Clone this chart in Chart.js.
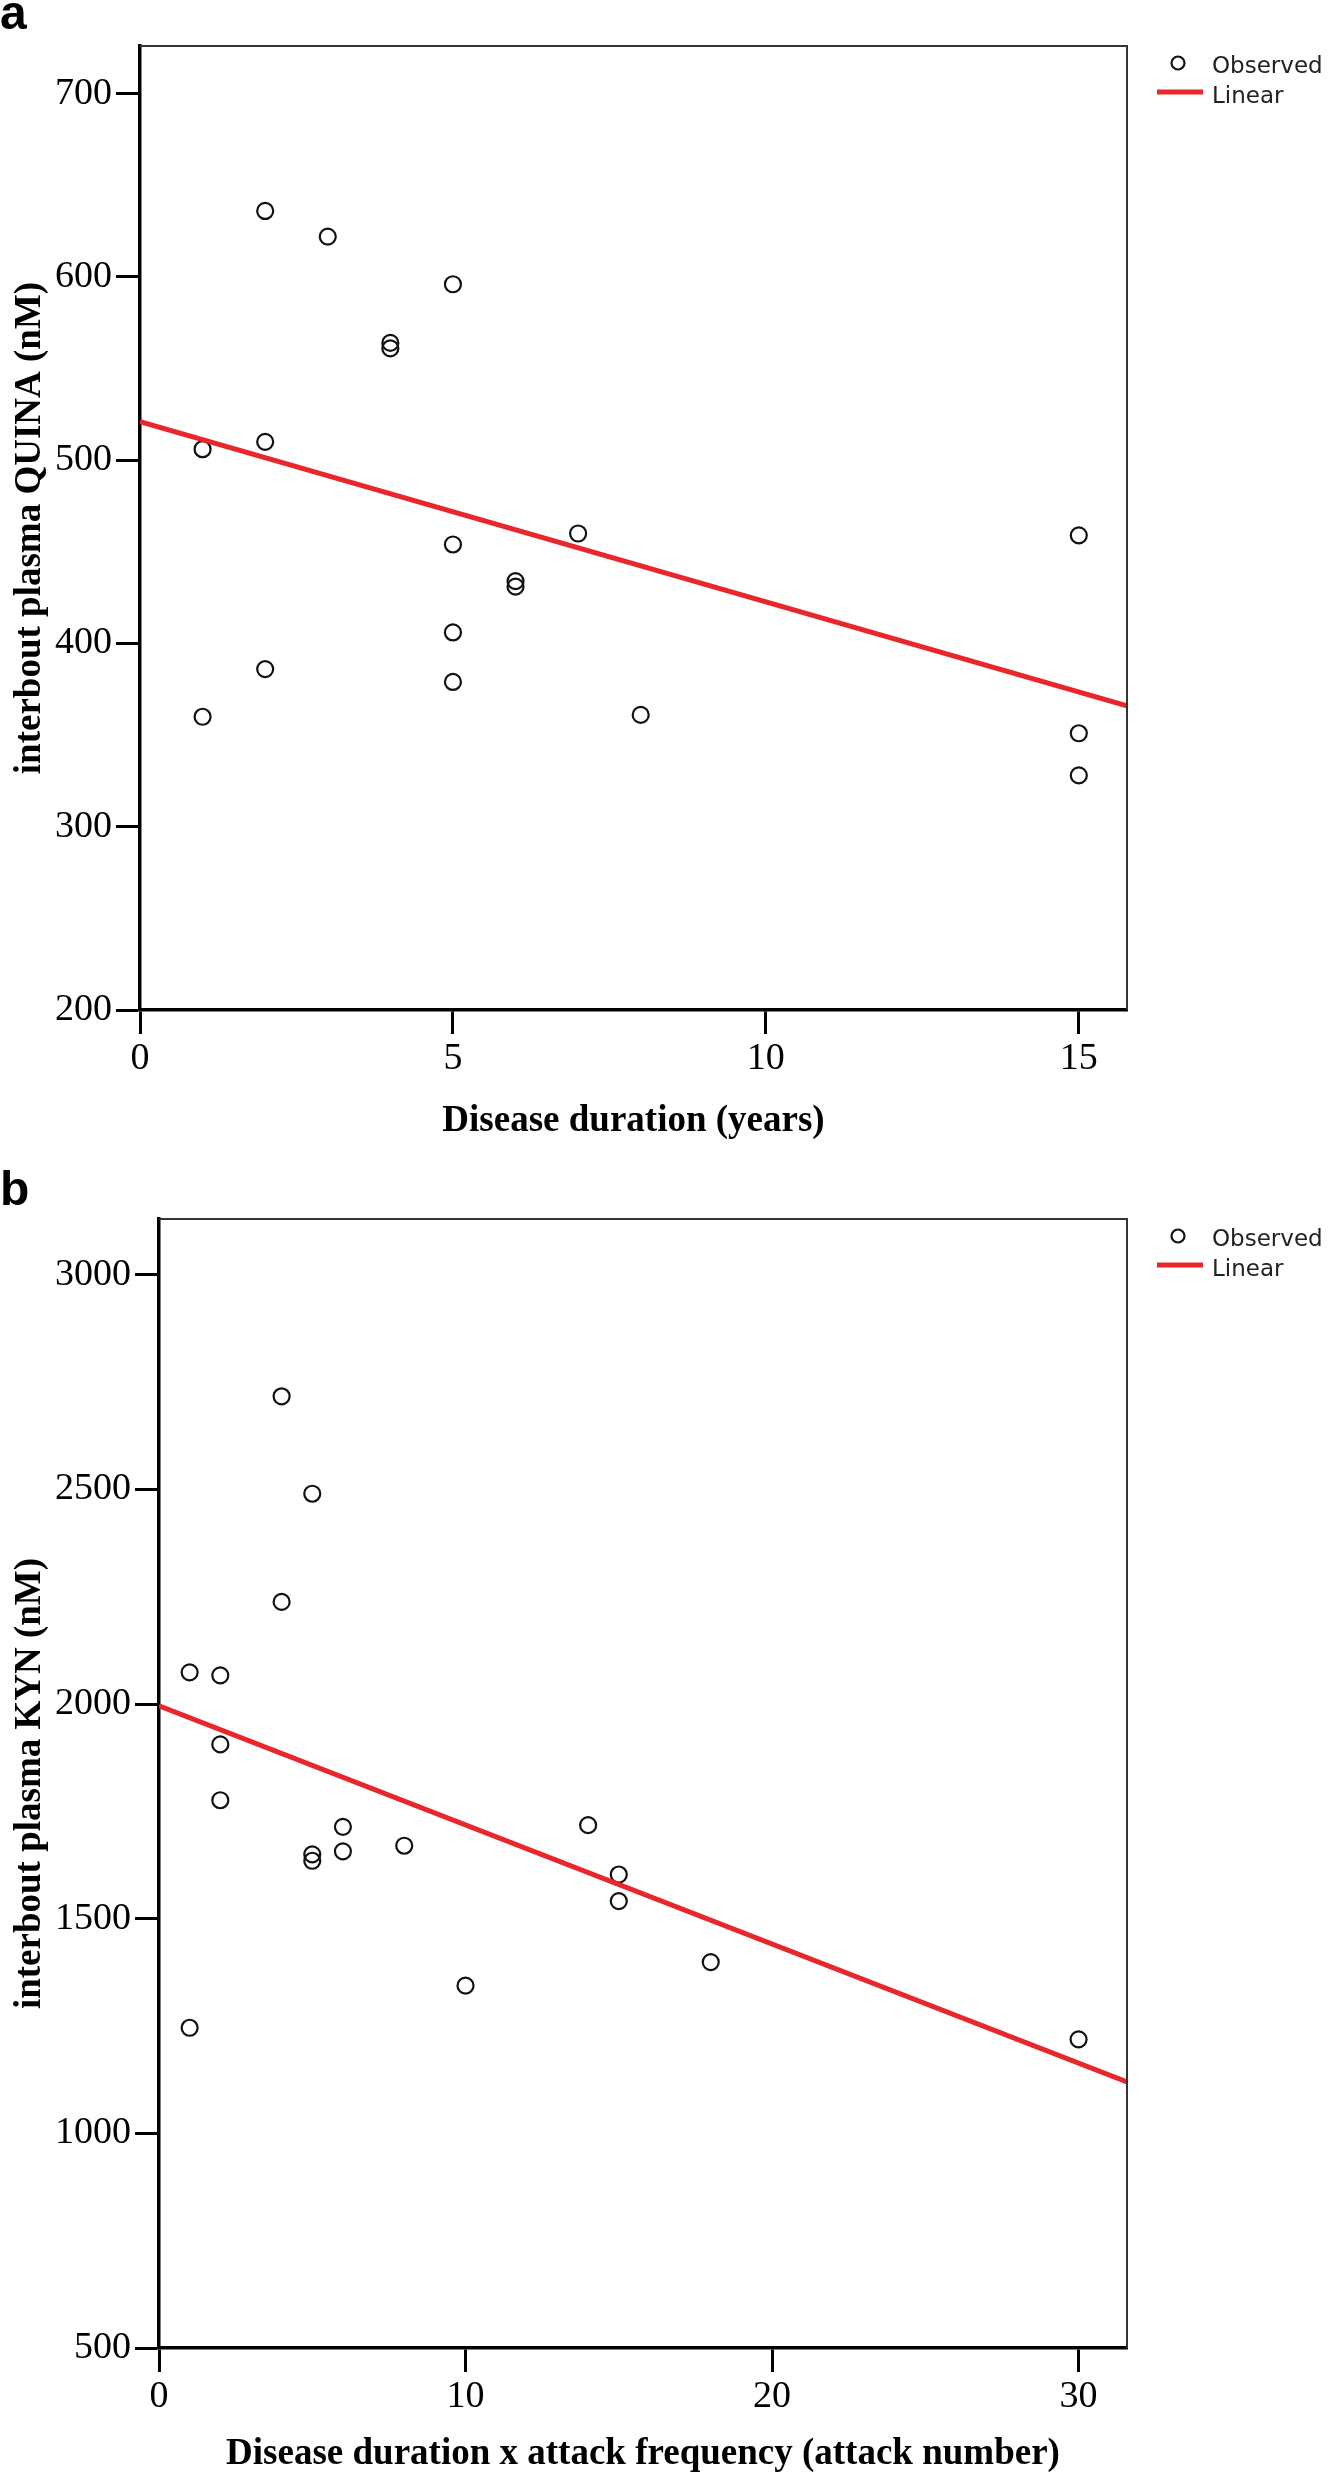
<!DOCTYPE html>
<html>
<head>
<meta charset="utf-8">
<script src="https://cdn.jsdelivr.net/npm/chart.js@4.4.1/dist/chart.umd.min.js"></script>
<style>
  body { margin: 0; background: #fff; }
  #wrap { position: relative; width: 1328px; height: 2480px; }
  canvas { position: absolute; left: 0; }
  #chartA { top: 0; }
  #chartB { top: 1150px; }
</style>
</head>
<body>
<div id="wrap">
  <canvas id="chartA" width="1328" height="1150"></canvas>
  <canvas id="chartB" width="1328" height="1330"></canvas>
</div>
<script>
// Panel a: QUINA vs disease duration
const durationYears = [2, 3, 5, 4, 4, 1, 2, 5, 7, 6, 6, 5, 2, 5, 1, 8, 15, 15, 15];
const quinaNM = [636, 622, 596, 564, 561, 506, 510, 454, 460, 434, 431, 406, 386, 379, 360, 361, 459, 351, 328];
const quinaFitX = [0, 15.77];
const quinaFitY = [521, 366];
const durationTicks = [0, 5, 10, 15];
const quinaTicks = [200, 300, 400, 500, 600, 700];

// Panel b: KYN vs disease duration x attack frequency
const attackNumber = [4, 5, 4, 1, 2, 2, 2, 6, 6, 5, 5, 8, 14, 15, 15, 10, 1, 18, 30];
const kynNM = [2717, 2490, 2238, 2074, 2067, 1906, 1776, 1714, 1657, 1650, 1635, 1670, 1718, 1603, 1541, 1344, 1246, 1399, 1219];
const kynFitX = [0, 31.58];
const kynFitY = [1996, 1120];
const attackTicks = [0, 10, 20, 30];
const kynTicks = [500, 1000, 1500, 2000, 2500, 3000];

const legendLabels = ['Observed', 'Linear'];

const SERIF = '"Liberation Serif", "Times New Roman", serif';
const RED = '#e8262b';

// top/right frame, panel letter and the small legend
const framePlugin = {
  id: 'frame',
  afterDraw(chart, args, opts) {
    const { ctx, chartArea: a } = chart;
    const ds = chart.data.datasets;
    ctx.save();
    ctx.strokeStyle = '#333';
    ctx.lineWidth = 2;
    ctx.beginPath();
    ctx.moveTo(a.left, a.top);
    ctx.lineTo(a.right, a.top);
    ctx.lineTo(a.right, a.bottom);
    ctx.stroke();

    ctx.fillStyle = '#000';
    ctx.font = 'bold 48px "Liberation Sans", Arial, sans-serif';
    ctx.textAlign = 'left';
    ctx.textBaseline = 'alphabetic';
    ctx.fillText(opts.letter, 0, opts.letterBaseline);

    // legend
    ctx.strokeStyle = ds[1].borderColor;
    ctx.lineWidth = 2.2;
    ctx.beginPath();
    ctx.arc(1178, a.top + 17, 6.5, 0, Math.PI * 2);
    ctx.stroke();
    ctx.strokeStyle = ds[0].borderColor;
    ctx.lineWidth = 5;
    ctx.beginPath();
    ctx.moveTo(1157, a.top + 46);
    ctx.lineTo(1203, a.top + 46);
    ctx.stroke();
    ctx.fillStyle = '#222';
    ctx.font = '23px "DejaVu Sans", sans-serif';
    ctx.fillText(legendLabels[0], 1212, a.top + 27);
    ctx.fillText(legendLabels[1], 1212, a.top + 56.5);
    ctx.restore();
  }
};

function makeChart(id, p) {
  const points = p.xs.map((x, i) => ({ x: x, y: p.ys[i] }));
  const fit = p.fitX.map((x, i) => ({ x: x, y: p.fitY[i] }));
  return new Chart(document.getElementById(id), {
    type: 'scatter',
    data: {
      datasets: [
        {
          label: legendLabels[1],
          data: fit,
          showLine: true,
          borderColor: RED,
          borderWidth: 5,
          pointRadius: 0,
          order: 0
        },
        {
          label: legendLabels[0],
          data: points,
          pointStyle: 'circle',
          pointRadius: 8,
          borderWidth: 2.2,
          borderColor: '#111',
          backgroundColor: 'rgba(0,0,0,0)',
          order: 1
        }
      ]
    },
    options: {
      responsive: false,
      animation: false,
      layout: { padding: { top: p.padTop, right: 201, left: 0, bottom: 0 } },
      plugins: {
        legend: { display: false },
        tooltip: { enabled: false },
        frame: { letter: p.letter, letterBaseline: p.letterBaseline }
      },
      scales: {
        x: {
          type: 'linear',
          min: p.xMin,
          max: p.xMax,
          afterBuildTicks: s => { s.ticks = p.xTicks.map(v => ({ value: v })); },
          afterFit: s => { s.height = p.xAxisHeight; },
          border: { color: '#000', width: 3.5 },
          grid: { drawOnChartArea: false, drawTicks: true, tickLength: 24, tickWidth: 3, tickColor: '#000' },
          ticks: { color: '#000', padding: 2, font: { family: SERIF, size: 38 }, callback: v => String(v) },
          title: {
            display: true,
            text: p.xTitle,
            color: '#000',
            font: { family: SERIF, size: 37, weight: 'bold' },
            padding: { top: 0, bottom: p.xTitlePad }
          }
        },
        y: {
          type: 'linear',
          min: p.yMin,
          max: p.yMax,
          afterBuildTicks: s => { s.ticks = p.yTicks.map(v => ({ value: v })); },
          afterFit: s => { s.width = p.yAxisWidth; },
          border: { color: '#000', width: 3.5 },
          grid: { drawOnChartArea: false, drawTicks: true, tickLength: 24, tickWidth: 3, tickColor: '#000' },
          ticks: { color: '#000', padding: 4, font: { family: SERIF, size: 38 }, callback: v => String(v) },
          title: {
            display: true,
            text: p.yTitle,
            color: '#000',
            font: { family: SERIF, size: 37, weight: 'bold' },
            padding: { top: 8, bottom: 0 }
          }
        }
      }
    },
    plugins: [framePlugin]
  });
}

makeChart('chartA', {
  xs: durationYears, ys: quinaNM, fitX: quinaFitX, fitY: quinaFitY,
  xTicks: durationTicks, yTicks: quinaTicks,
  xMin: 0, xMax: 15.77, yMin: 200, yMax: 726,
  xTitle: 'Disease duration (years)',
  yTitle: 'interbout plasma QUINA (nM)',
  letter: 'a', letterBaseline: 29,
  padTop: 46, yAxisWidth: 140, xAxisHeight: 140, xTitlePad: 6
});

makeChart('chartB', {
  xs: attackNumber, ys: kynNM, fitX: kynFitX, fitY: kynFitY,
  xTicks: attackTicks, yTicks: kynTicks,
  xMin: 0, xMax: 31.58, yMin: 500, yMax: 3130,
  xTitle: 'Disease duration x attack frequency (attack number)',
  yTitle: 'interbout plasma KYN (nM)',
  letter: 'b', letterBaseline: 55,
  padTop: 69, yAxisWidth: 159, xAxisHeight: 132, xTitlePad: 3
});
</script>
</body>
</html>
